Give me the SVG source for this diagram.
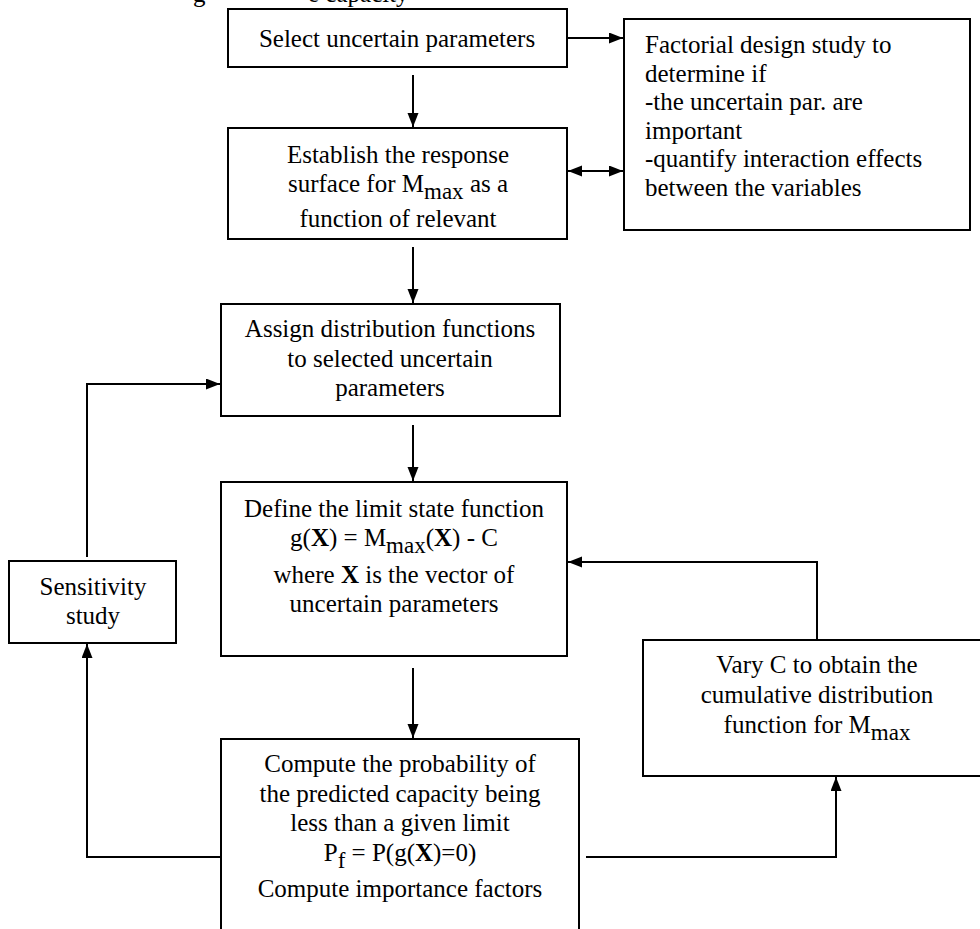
<svg xmlns="http://www.w3.org/2000/svg" width="980" height="929" viewBox="0 0 980 929">
<style>
text{font-family:'Liberation Serif','Times New Roman','DejaVu Serif',serif;font-size:25px;fill:#000}
.c{text-anchor:middle}
.box{fill:#fff;stroke:#000;stroke-width:2}
.ln{fill:none;stroke:#000;stroke-width:2}
.b{font-weight:bold}
.s{font-size:23px}
</style>
<defs>
<marker id="ah" markerUnits="userSpaceOnUse" markerWidth="15" markerHeight="12" refX="14" refY="5.5" orient="auto-start-reverse">
<path d="M0,0 L14,5.5 L0,11 z" fill="#000"/>
</marker>
</defs>
<rect width="980" height="929" fill="#fff"/>
<g id="caption">
<text x="193" y="2">g</text>
<text x="308" y="2">e capacity</text>
</g>
<g id="connectors">
<line class="ln" x1="567" y1="38" x2="623" y2="38" marker-end="url(#ah)"/>
<line class="ln" x1="568" y1="171" x2="623" y2="171" marker-start="url(#ah)" marker-end="url(#ah)"/>
<line class="ln" x1="413" y1="75" x2="413" y2="127" marker-end="url(#ah)"/>
<line class="ln" x1="413" y1="247" x2="413" y2="303" marker-end="url(#ah)"/>
<line class="ln" x1="413" y1="425" x2="413" y2="481" marker-end="url(#ah)"/>
<line class="ln" x1="413" y1="668" x2="413" y2="738" marker-end="url(#ah)"/>
<polyline class="ln" points="87,557 87,384 220,384" marker-end="url(#ah)"/>
<polyline class="ln" points="221,857 87,857 87,644" marker-end="url(#ah)"/>
<polyline class="ln" points="817,640 817,562 568,562" marker-end="url(#ah)"/>
<polyline class="ln" points="586,857 836,857 836,777" marker-end="url(#ah)"/>
</g>
<g id="select">
<rect class="box" x="228" y="9" width="339" height="58"/>
<text class="c" x="397" y="47">Select uncertain parameters</text>
</g>
<g id="factorial">
<rect class="box" x="624" y="19" width="346" height="211"/>
<text x="645" y="53">Factorial design study to</text>
<text x="645" y="82">determine if</text>
<text x="645" y="110">-the uncertain par. are</text>
<text x="645" y="139">important</text>
<text x="645" y="167">-quantify interaction effects</text>
<text x="645" y="196">between the variables</text>
</g>
<g id="establish">
<rect class="box" x="228" y="128" width="339" height="111"/>
<text class="c" x="398" y="163">Establish the response</text>
<text class="c" x="398" y="192">surface for M<tspan class="s" dy="7">max</tspan><tspan dy="-7"> as a</tspan></text>
<text class="c" x="398" y="227">function of relevant</text>
</g>
<g id="assign">
<rect class="box" x="221" y="304" width="339" height="112"/>
<text class="c" x="390" y="337">Assign distribution functions</text>
<text class="c" x="390" y="367">to selected uncertain</text>
<text class="c" x="390" y="396">parameters</text>
</g>
<g id="define">
<rect class="box" x="221" y="482" width="346" height="174"/>
<text class="c" x="394" y="517">Define the limit state function</text>
<text class="c" x="394" y="546">g(<tspan class="b">X</tspan>) = M<tspan class="s" dy="7">max</tspan><tspan dy="-7">(</tspan><tspan class="b">X</tspan>) - C</text>
<text class="c" x="394" y="583">where <tspan class="b">X</tspan> is the vector of</text>
<text class="c" x="394" y="612">uncertain parameters</text>
</g>
<g id="sensitivity">
<rect class="box" x="9" y="561" width="167" height="82"/>
<text class="c" x="93" y="595">Sensitivity</text>
<text class="c" x="93" y="624">study</text>
</g>
<g id="vary">
<rect class="box" x="643" y="640" width="350" height="136"/>
<text class="c" x="817" y="673">Vary C to obtain the</text>
<text class="c" x="817" y="703">cumulative distribution</text>
<text class="c" x="817" y="733">function for M<tspan class="s" dy="7">max</tspan></text>
</g>
<g id="compute">
<rect class="box" x="221" y="739" width="358" height="200"/>
<text class="c" x="400" y="772">Compute the probability of</text>
<text class="c" x="400" y="802">the predicted capacity being</text>
<text class="c" x="400" y="831">less than a given limit</text>
<text class="c" x="400" y="861">P<tspan class="s" dy="7">f</tspan><tspan dy="-7"> = P(g(</tspan><tspan class="b">X</tspan>)=0)</text>
<text class="c" x="400" y="897">Compute importance factors</text>
</g>
</svg>
